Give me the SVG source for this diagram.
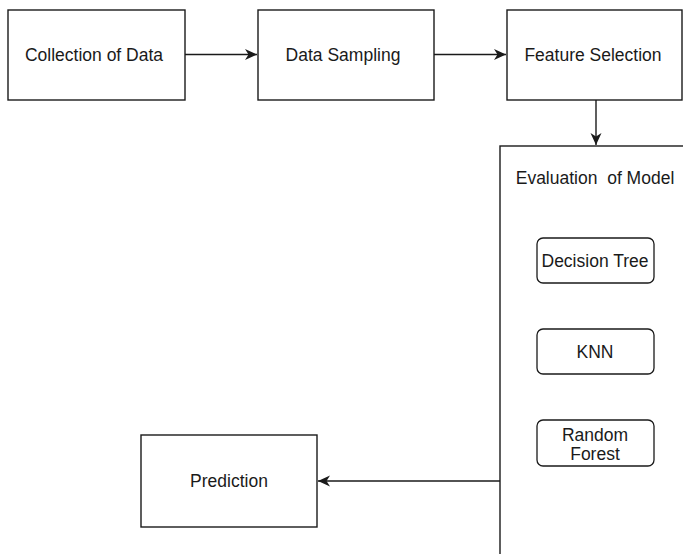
<svg xmlns="http://www.w3.org/2000/svg" width="683" height="554" viewBox="0 0 683 554">
  <style>
    .box { fill: #ffffff; stroke: #1a1a1a; stroke-width: 1.4; }
    .rbox { fill: #ffffff; stroke: #1a1a1a; stroke-width: 1.3; }
    .lbl { font-family: "Liberation Sans", Arial, Helvetica, sans-serif; font-size: 17.5px; fill: #1a1a1a; text-anchor: middle; dominant-baseline: central; }
    .edge { fill: none; stroke: #1a1a1a; stroke-width: 1.4; }
  </style>
  <defs>
    <marker id="arrow" markerUnits="userSpaceOnUse" markerWidth="14" markerHeight="12" refX="12" refY="6" orient="auto">
      <path d="M0,0.5 L12,6 L0,11.5 L3.5,6 Z" fill="#1a1a1a"/>
    </marker>
  </defs>
  <rect width="683" height="554" fill="#ffffff"/>

  <g id="collection">
    <rect class="box" x="8" y="10" width="177" height="90"/>
    <text class="lbl" x="94" y="55">Collection of Data</text>
  </g>
  <g id="sampling">
    <rect class="box" x="258" y="10" width="176" height="90"/>
    <text class="lbl" x="343" y="55">Data Sampling</text>
  </g>
  <g id="feature">
    <rect class="box" x="507" y="10" width="175" height="90"/>
    <text class="lbl" x="593" y="55">Feature Selection</text>
  </g>
  <g id="evaluation">
    <rect class="box" x="500" y="146" width="200" height="420"/>
    <text class="lbl" x="595" y="178" style="white-space:pre">Evaluation  of Model</text>
  </g>
  <g id="decision-tree">
    <rect class="rbox" x="537" y="238" width="117" height="45" rx="6"/>
    <text class="lbl" x="595" y="261">Decision Tree</text>
  </g>
  <g id="knn">
    <rect class="rbox" x="537" y="329" width="117" height="45" rx="6"/>
    <text class="lbl" x="595" y="352">KNN</text>
  </g>
  <g id="random-forest">
    <rect class="rbox" x="537" y="420" width="117" height="46" rx="6"/>
    <text class="lbl" x="595" y="435">Random</text>
    <text class="lbl" x="595" y="454">Forest</text>
  </g>
  <g id="prediction">
    <rect class="box" x="141" y="435" width="176" height="92"/>
    <text class="lbl" x="229" y="481">Prediction</text>
  </g>

  <g id="connectors">
    <path class="edge" d="M185,54.5 H257" marker-end="url(#arrow)"/>
    <path class="edge" d="M434,54.5 H506" marker-end="url(#arrow)"/>
    <path class="edge" d="M596,100 V145" marker-end="url(#arrow)"/>
    <path class="edge" d="M500,481 H318" marker-end="url(#arrow)"/>
  </g>
</svg>
